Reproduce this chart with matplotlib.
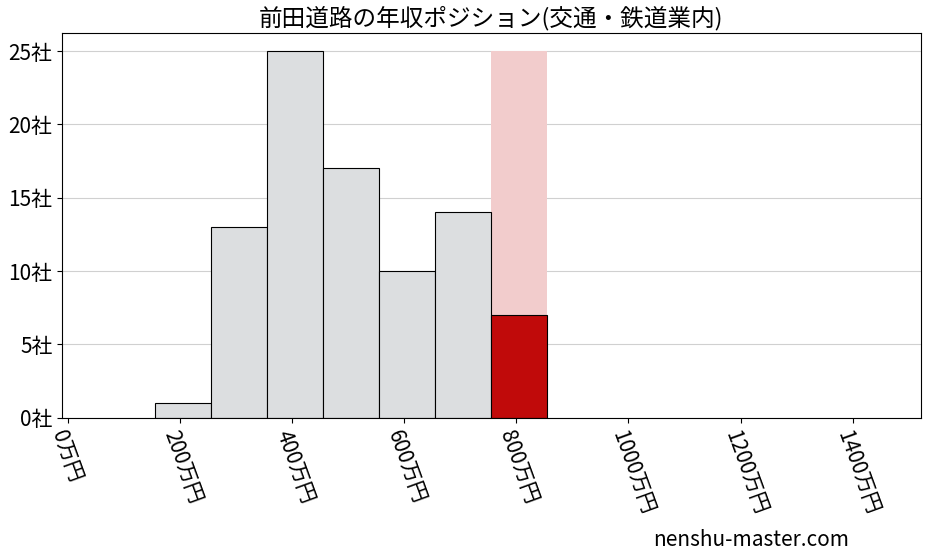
import matplotlib
matplotlib.use("Agg")
import matplotlib.pyplot as plt

plt.rcParams['font.family'] = ['Noto Sans CJK JP', 'DejaVu Sans']

bin_left = [155, 255, 355, 455, 555, 655]
counts = [1, 13, 25, 17, 10, 14]
hl_left = 755
hl_count = 7
hl_max = 25
bin_width = 100
xticks = [0, 200, 400, 600, 800, 1000, 1200, 1400]
yticks = [0, 5, 10, 15, 20, 25]

fig, ax = plt.subplots(figsize=(9.28, 5.57), dpi=100)
fig.subplots_adjust(left=0.067, right=0.992, top=0.94, bottom=0.25)
ax.bar(bin_left, counts, width=bin_width, align='edge', color='#dcdee0', edgecolor='black', linewidth=0.8, zorder=2)
ax.bar([hl_left], [hl_max], width=bin_width, align='edge', color='#f2cccc', zorder=1)
ax.bar([hl_left], [hl_count], width=bin_width, align='edge', color='#c00a0a', edgecolor='black', linewidth=0.8, zorder=2)
ax.set_xlim(-10, 1521)
ax.set_ylim(0, 26.2)
ax.set_xticks(xticks)
ax.set_xticklabels([f"{v}万円" for v in xticks], rotation=-70, ha='left', rotation_mode='anchor', fontsize=15)
ax.set_yticks(yticks)
ax.set_yticklabels([f"{v}社" for v in yticks], fontsize=15)
ax.grid(axis='y', color='#d0d0d0', linewidth=0.8, zorder=0)
ax.set_axisbelow(True)
ax.set_title("前田道路の年収ポジション(交通・鉄道業内)", fontsize=17)
fig.text(0.915, 0.02, "nenshu-master.com", ha='right', fontsize=15)
fig.savefig("out.png")
